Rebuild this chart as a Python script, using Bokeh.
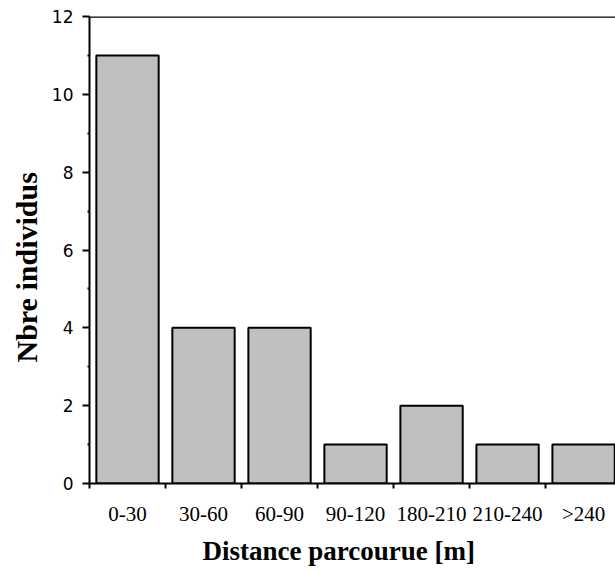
from bokeh.plotting import figure
from bokeh.models import FixedTicker, Span, Title, Range1d
from bokeh.embed import file_html
from bokeh.resources import INLINE

categories = ["0-30", "30-60", "60-90", "90-120", "180-210", "210-240", ">240"]
counts = [11, 4, 4, 1, 2, 1, 1]
y_ticks = [0, 2, 4, 6, 8, 10, 12]
y_minor = [1, 3, 5, 7, 9, 11]

centers = [i + 0.5 for i in range(len(categories))]
bounds = list(range(len(categories) + 1))

p = figure(width=615, height=571, output_backend="svg", toolbar_location=None,
           x_range=Range1d(0, 6.92), y_range=Range1d(0, 12),
           min_border_left=89, min_border_right=0, min_border_top=16, min_border_bottom=88)

p.vbar(x=centers, top=counts, width=0.82, bottom=0,
       fill_color="#C0C0C0", line_color="black", line_width=2)

p.outline_line_color = None
p.xgrid.visible = False
p.ygrid.visible = False
p.background_fill_color = "white"

# top border line
p.add_layout(Span(location=12, dimension="width", line_color="black", line_width=2.5))

# x axis
xa = p.xaxis[0]
xa.ticker = FixedTicker(ticks=centers, minor_ticks=bounds)
xa.major_label_overrides = {c: lab for c, lab in zip(centers, categories)}
xa.major_tick_out = 0
xa.major_tick_in = 0
xa.minor_tick_out = 5
xa.minor_tick_in = 0
xa.minor_tick_line_width = 2
xa.minor_tick_line_color = "black"
xa.axis_line_width = 2
xa.axis_line_color = "black"
xa.major_label_text_font = "Liberation Serif"
xa.major_label_text_font_size = "21px"
xa.major_label_text_color = "black"
xa.major_label_standoff = 13

# y axis
ya = p.yaxis[0]
ya.ticker = FixedTicker(ticks=y_ticks, minor_ticks=y_minor)
ya.major_tick_out = 7
ya.major_tick_in = 0
ya.major_tick_line_width = 2
ya.minor_tick_out = 2
ya.minor_tick_in = 0
ya.minor_tick_line_width = 2
ya.axis_line_width = 2
ya.major_label_text_font = "DejaVu Sans"
ya.major_label_text_font_size = "17px"
ya.major_label_text_color = "black"
ya.major_label_standoff = 9

p.add_layout(Title(text="Nbre individus", align="left", offset=121,
                   text_font="Liberation Serif", text_font_style="bold",
                   text_font_size="30px", text_color="black", standoff=12), "left")

p.add_layout(Title(text="Distance parcourue [m]", align="left", offset=113,
                   text_font="Liberation Serif", text_font_style="bold",
                   text_font_size="27px", text_color="black", standoff=10), "below")

open("out.html", "w").write(file_html(p, INLINE))
